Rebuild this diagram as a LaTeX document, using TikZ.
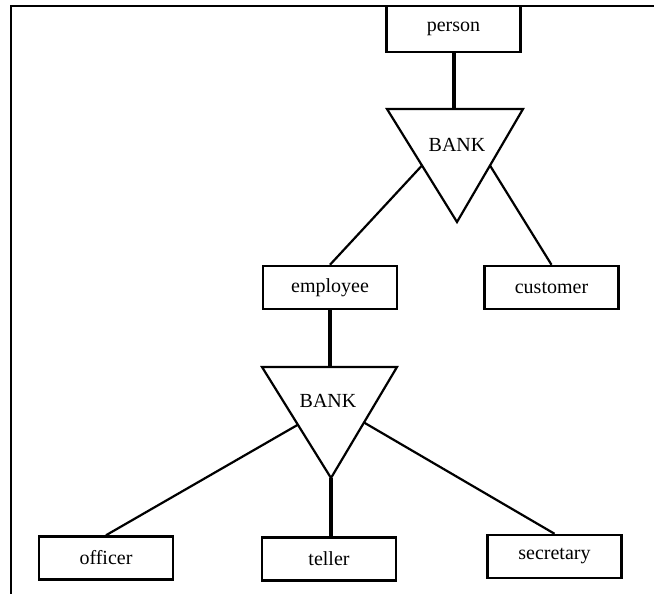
\documentclass[tikz,border=0pt]{standalone}
\usepackage{fontspec}
\setmainfont{Liberation Serif}
\usetikzlibrary{calc}

\begin{document}
\begin{tikzpicture}[x=1pt,y=-1pt,every node/.style={font=\fontsize{20}{24}\selectfont,inner sep=0pt},
  entity/.style={draw,line width=2.5pt,minimum width=134pt,minimum height=43pt},
  isa/.style={line width=2.2pt,line join=miter},
  link/.style={line width=2.2pt},
  total/.style={line width=4pt}]
\useasboundingbox (0,0) rectangle (654,594);
\draw[line width=2.5pt] (654,6) -- (11,6) -- (11,594);
% upper level
\node[entity,minimum height=46pt] (person) at (453.5,29) {person};
\coordinate (bank1w) at (387,109);
\coordinate (bank1e) at (523,109);
\coordinate (bank1s) at (457,222);
\draw[isa] (bank1w) -- (bank1e) -- (bank1s) -- cycle;
\node (bank1) at (457,145) {BANK};
\node[entity] (employee) at (330,287.5) {employee};
\node[entity] (customer) at (551.5,287.5) {customer};
\draw[total] (person) -- (person |- bank1w);
\draw[link] ($(bank1w)!0.5!(bank1s)$) -- (employee.north);
\draw[link] ($(bank1e)!0.5!(bank1s)$) -- (customer.north);
% lower level
\coordinate (bank2w) at (262,367);
\coordinate (bank2e) at (397,367);
\coordinate (bank2s) at (331,478);
\draw[isa] (bank2w) -- (bank2e) -- (bank2s) -- cycle;
\node (bank2) at (328,401) {BANK};
\node[entity] (officer) at (106,558) {officer};
\node[entity] (teller) at (329,559) {teller};
\node[entity] (secretary) at (554.5,556.5) {secretary};
\draw[total] (employee) -- (employee |- bank2w);
\draw[link] ($(bank2w)!0.52!(bank2s)$) -- (officer.north);
\draw[total] (bank2s) -- (bank2s |- teller.north);
\draw[link] ($(bank2e)!0.5!(bank2s)$) -- (secretary.north);
\end{tikzpicture}
\end{document}
